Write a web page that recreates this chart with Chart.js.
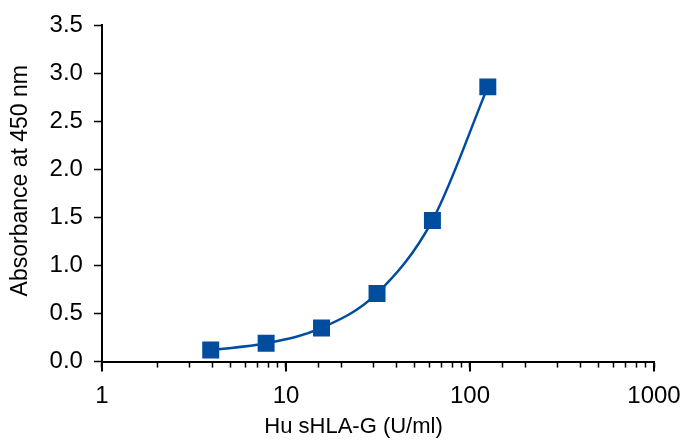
<!DOCTYPE html>
<html lang="en">
<head>
  <meta charset="UTF-8"/>
  <title>Hu sHLA-G standard curve</title>
  <script src="https://cdn.jsdelivr.net/npm/chart.js"></script>
  <style>
    body {
      margin: 0;
      background: #fff;
    }
    #wrap {
      width: 681px;
      height: 441px;
    }
  </style>
</head>
<body>
  <div id="wrap"><canvas id="curve" width="681" height="441"></canvas></div>

  <script>
    // concentration (U/ml) and absorbance
    const concentrations = [3.9, 7.8, 15.6, 31.25, 62.5, 125];
    const absorbance = [0.12, 0.19, 0.35, 0.71, 1.47, 2.86];
    const xMajorTicks = [1, 10, 100, 1000];
    const yTicks = [0, 0.5, 1, 1.5, 2, 2.5, 3, 3.5];

    const blue = '#004c9e';
    const fontFamily = "'Liberation Sans', Arial, sans-serif";

    const points = concentrations.map((c, i) => ({ x: c, y: absorbance[i] }));

    // longer ticks at the decades, like the original
    const majorTicks = {
      id: 'majorTicks',
      afterDraw(chart) {
        const x = chart.scales.x;
        const ctx = chart.ctx;
        ctx.save();
        ctx.strokeStyle = '#000';
        ctx.lineWidth = 2;
        xMajorTicks.forEach(v => {
          const px = Math.round(x.getPixelForValue(v));
          ctx.beginPath();
          ctx.moveTo(px, x.top);
          ctx.lineTo(px, x.top + 10);
          ctx.stroke();
        });
        ctx.restore();
      }
    };

    new Chart(document.getElementById('curve'), {
      type: 'scatter',
      data: {
        datasets: [{
          data: points,
          showLine: true,
          borderColor: blue,
          borderWidth: 2.5,
          backgroundColor: blue,
          pointStyle: 'rect',
          pointRadius: 12,
          pointHoverRadius: 12,
          pointBorderWidth: 0,
          cubicInterpolationMode: 'monotone'
        }]
      },
      options: {
        responsive: false,
        devicePixelRatio: 1,
        animation: false,
        layout: { padding: { top: 23, right: 0, left: 7, bottom: 1 } },
        plugins: {
          legend: { display: false },
          tooltip: { enabled: false }
        },
        scales: {
          x: {
            type: 'logarithmic',
            min: 1,
            max: 1000,
            // let the "1000" label run close to the edge
            afterFit: scale => { scale.paddingRight = 27; },
            grid: {
              display: true,
              drawOnChartArea: false,
              drawTicks: true,
              tickLength: 6,
              tickWidth: 1.5,
              tickColor: '#000'
            },
            border: { color: '#000', width: 2 },
            ticks: {
              color: '#000',
              autoSkip: false,
              maxRotation: 0,
              padding: 17,
              font: { family: fontFamily, size: 24, lineHeight: 1 },
              callback: v => xMajorTicks.includes(v) ? String(v) : ''
            },
            title: {
              display: true,
              // trailing spaces pull the title left, as in the original
              text: 'Hu sHLA-G (U/ml)        ',
              color: '#000',
              padding: { top: -12, bottom: 0 },
              font: { family: fontFamily, size: 22 }
            }
          },
          y: {
            min: 0,
            max: 3.5,
            afterBuildTicks: axis => {
              axis.ticks = yTicks.map(v => ({ value: v }));
            },
            grid: {
              display: true,
              drawOnChartArea: false,
              tickLength: 8,
              tickWidth: 1.5,
              tickColor: '#000'
            },
            border: { color: '#000', width: 2 },
            ticks: {
              color: '#000',
              padding: 11,
              font: { family: fontFamily, size: 24 },
              callback: v => v.toFixed(1)
            },
            title: {
              display: true,
              // leading spaces lift the title a little, as in the original
              text: '    Absorbance at 450 nm',
              color: '#000',
              padding: { top: 0, bottom: 4 },
              font: { family: fontFamily, size: 23 }
            }
          }
        }
      },
      plugins: [majorTicks]
    });
  </script>
</body>
</html>
